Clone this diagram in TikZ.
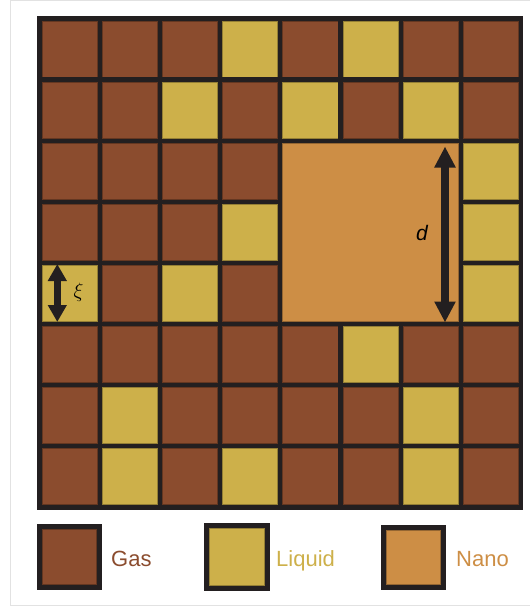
\documentclass[tikz,border=0pt]{standalone}
\usepackage{fontspec}
\setmainfont{Liberation Sans}
\usetikzlibrary{arrows.meta}
\definecolor{G}{HTML}{8B4C2E}
\definecolor{L}{HTML}{CDB04A}
\definecolor{N}{HTML}{CD8E45}
\definecolor{edgec}{HTML}{231F20}
\definecolor{framec}{HTML}{E2E2E2}
\tikzset{
  cellbox/.style={fill=#1, draw=edgec, line width=4.2pt},
  legbox/.style={fill=#1, draw=edgec, line width=5pt},
  inner/.style={draw=#1!72!black, line width=0.8pt},
  legtext/.style={anchor=base west, inner sep=0pt, text=#1, font=\fontsize{22}{24}\selectfont},
  dblarrow/.style={draw=edgec, line width=#1},
}
\begin{document}
\begin{tikzpicture}[x=1pt,y=-1pt]
\useasboundingbox (0,0) rectangle (530,607);
\draw[framec, line width=1pt] (530,1) -- (10,1) -- (10,605) -- (530,605);
% grid
\foreach \row [count=\j from 0] in {
  {G,G,G,L,G,L,G,G},
  {G,G,L,G,L,G,L,G},
  {G,G,G,G,N,N,N,L},
  {G,G,G,L,N,N,N,L},
  {L,G,L,G,N,N,N,L},
  {G,G,G,G,G,L,G,G},
  {G,L,G,G,G,G,L,G},
  {G,L,G,L,G,G,L,G}} {
  \foreach \c [count=\i from 0] in \row {
    \pgfmathsetmacro{\xa}{39.5+60.2*\i}
    \pgfmathsetmacro{\xb}{39.5+60.2*(\i+1)}
    \pgfmathsetmacro{\ya}{18.5+61.1*\j}
    \pgfmathsetmacro{\yb}{18.5+61.1*(\j+1)}
    \filldraw[cellbox=\c] (\xa,\ya) rectangle (\xb,\yb);
    \draw[inner=\c] (\xa+2.5,\ya+2.5) rectangle (\xb-2.5,\yb-2.5);
  }
}
% nano block
\filldraw[cellbox=N] (280.3,140.7) rectangle (460.9,324);
\draw[inner=N] (282.8,143.2) rectangle (458.4,321.5);
\draw[edgec, line width=4.5pt] (39.5,18.5) rectangle (521.1,507.3);
% d arrow
\coordinate (dtop) at (445,146.5);
\coordinate (dbot) at (445,322.5);
\draw[dblarrow=7.5pt, {Triangle[width=20pt,length=21pt]}-{Triangle[width=20pt,length=21pt]}] (dtop) -- (dbot);
\node (dlab) at (422,233) {\fontsize{21}{23}\selectfont\itshape d};
% xi arrow
\coordinate (xtop) at (57.3,264);
\coordinate (xbot) at (57.3,322);
\draw[dblarrow=6.5pt, {Triangle[width=18pt,length=17pt]}-{Triangle[width=18pt,length=17pt]}] (xtop) -- (xbot);
\node (xlab) at (78.5,292) {\fontsize{21}{23}\selectfont$\xi$};
% legend
\filldraw[legbox=G] (39.5,526.5) rectangle (99.5,587.5);
\draw[inner=G] (42.5,529.5) rectangle (96.5,584.5);
\node[legtext=G] (gas) at (111,566) {Gas};
\filldraw[legbox=L] (206.5,525.5) rectangle (267.5,588.5);
\draw[inner=L] (209.5,528.5) rectangle (264.5,585.5);
\node[legtext=L] (liq) at (276,566) {Liquid};
\filldraw[legbox=N] (383.5,527.5) rectangle (443.5,587.5);
\draw[inner=N] (386.5,530.5) rectangle (440.5,584.5);
\node[legtext=N] (nano) at (456,566) {Nano};
\end{tikzpicture}
\end{document}
